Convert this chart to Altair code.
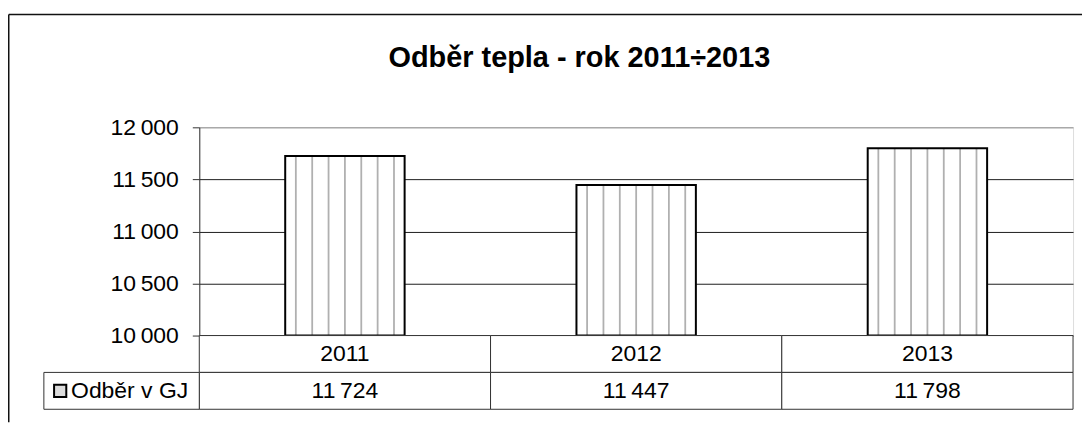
import altair as alt
import pandas as pd

# ---- data ----
years = ["2011", "2012", "2013"]
values = [11724, 11447, 11798]
y_ticks = [10000, 10500, 11000, 11500, 12000]
series_label = "Odběr v GJ"
chart_title = "Odběr tepla - rok 2011÷2013"
row_keys = ["year", "value"]
n_stripes = 7

THIN = "\u2009"


def fmt(v):
    return f"{v:,}".replace(",", THIN)


FONT = "Liberation Sans"
FS = 23
W, H = 877, 209
ROW_H = 37
LEG_W = 156

bars_df = pd.DataFrame({"year": years, "value": values})
table_df = pd.DataFrame({
    "year": years * 2,
    "row": [row_keys[0]] * len(years) + [row_keys[1]] * len(years),
    "label": years + [fmt(v) for v in values],
})
legend_df = pd.DataFrame({"col": ["legend"], "row": [row_keys[1]], "label": [series_label]})
frame_df = pd.DataFrame({"k": [0]})

x_bar = alt.Scale(domain=years, paddingInner=0.59, paddingOuter=0.295)
y_val = alt.Scale(domain=[y_ticks[0], y_ticks[-1]], zero=False, nice=False)

y_axis = alt.Axis(
    values=y_ticks,
    labelExpr="replace(format(datum.value, ','), ',', '\u2009')",
    labelFont=FONT, labelFontSize=FS, labelColor="#000",
    labelPadding=14, tickSize=7, tickColor="#333", tickWidth=1,
    domainColor="#333", domainWidth=1,
    grid=True,
    gridColor={"condition": {"test": "datum.value >= 12000", "value": "#8c8c8c"}, "value": "#1e1e1e"},
    gridWidth=1, title=None,
)

base = alt.Chart(bars_df)
xb = alt.X("year:N", scale=x_bar, axis=None)

bars = base.mark_bar(fill="white").encode(
    x=xb, y=alt.Y("value:Q", scale=y_val, axis=y_axis), y2=alt.datum(y_ticks[0])
)
stripes = base.transform_calculate(
    stripe=f"sequence(0, {n_stripes})"
).transform_flatten(["stripe"]).mark_rule(color="#b0b0b0", strokeWidth=1.8).encode(
    x=xb,
    xOffset=alt.XOffset("stripe:O", scale=alt.Scale(paddingOuter=0.15, paddingInner=0)),
    y=alt.Y("value:Q"),
    y2=alt.datum(y_ticks[0]),
)
outline = base.mark_bar(fillOpacity=0, stroke="#000", strokeWidth=2).encode(
    x=xb, y=alt.Y("value:Q"), y2=alt.datum(y_ticks[0])
)
bar_layer = alt.layer(bars, stripes, outline)

row_scale = alt.Scale(domain=row_keys, range=[H, H + 2 * ROW_H], paddingInner=0, paddingOuter=0)
xt = alt.X("year:N", scale=alt.Scale(domain=years, paddingInner=0, paddingOuter=0), axis=None)
yt = alt.Y("row:N", scale=row_scale, axis=None)
cells = alt.Chart(table_df).mark_rect(fill="white", stroke="#333", strokeWidth=1).encode(x=xt, y=yt)
cell_text = alt.Chart(table_df).mark_text(font=FONT, fontSize=FS, color="#000").encode(
    x=xt, y=yt, text="label:N"
)
table_layer = alt.layer(cells, cell_text)

leg_scale = alt.Scale(domain=["legend"], range=[-LEG_W, 0], paddingInner=0, paddingOuter=0)
leg_cell = alt.Chart(legend_df).mark_rect(fill="white", stroke="#333", strokeWidth=1).encode(
    x=alt.X("col:N", scale=leg_scale, axis=None), y=yt
)
leg_sq = alt.Chart(legend_df).mark_square(size=150, fill="#dcdcdc", stroke="#000", strokeWidth=2, opacity=1).encode(
    x=alt.X("col:N", scale=leg_scale, axis=None, bandPosition=0.105), y=yt
)
leg_text = alt.Chart(legend_df).mark_text(font=FONT, fontSize=FS, color="#000", align="left").encode(
    x=alt.X("col:N", scale=leg_scale, axis=None, bandPosition=0.175), y=yt, text="label:N"
)
legend_layer = alt.layer(leg_cell, leg_sq, leg_text)

frame_top = alt.Chart(frame_df).mark_rule(color="#111", strokeWidth=1.5).encode(
    x=alt.value(-191.25), x2=alt.value(886), y=alt.value(-113.25)
)
frame_left = alt.Chart(frame_df).mark_rule(color="#111", strokeWidth=1.5).encode(
    x=alt.value(-191.25), y=alt.value(-113.25), y2=alt.value(296)
)

chart = alt.layer(bar_layer, table_layer, legend_layer, frame_top, frame_left).resolve_scale(
    x="independent", y="independent"
).properties(
    width=W, height=H,
    padding={"left": 0, "top": 5, "right": 0, "bottom": 0},
    title=alt.TitleParams(
        text=chart_title, font=FONT, fontSize=29, fontWeight="bold", color="#000",
        anchor="middle", dx=-57, offset=-59,
    ),
).configure_view(stroke="#8c8c8c", strokeWidth=1).configure(font=FONT)

chart.save("out.html", embed_options={"renderer": "svg", "actions": False})
